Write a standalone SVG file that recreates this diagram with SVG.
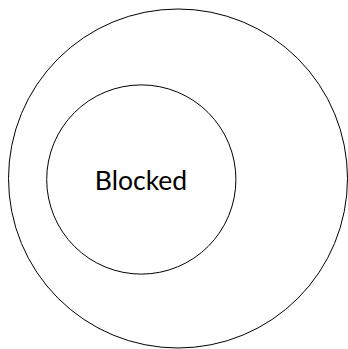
<svg xmlns="http://www.w3.org/2000/svg" width="348" height="349" viewBox="0 0 348 349">
<style>
.c{fill:none;stroke:#000;stroke-width:1}
.t{font-family:Lato,"Noto Sans",sans-serif;font-size:26.5px;fill:#000;text-anchor:middle}
</style>
<rect width="348" height="349" fill="#fff"/>
<g id="outer"><circle class="c" cx="178" cy="178.5" r="169.5"/></g>
<g id="inner"><circle class="c" cx="141.3" cy="179.5" r="94.6"/><text class="t" x="141" y="190">Blocked</text></g>
<g id="connectors"/>
</svg>
